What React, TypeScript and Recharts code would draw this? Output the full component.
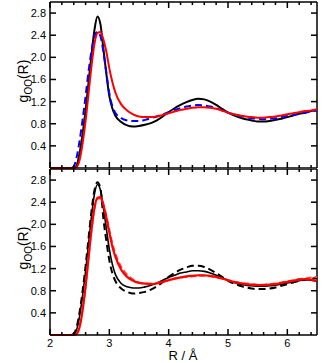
import { LineChart, Line, XAxis, YAxis, ReferenceLine } from 'recharts';

const rGrid = [
  2.0, 2.3, 2.35, 2.4, 2.45, 2.5, 2.55, 2.6, 2.65, 2.7, 2.75, 2.8, 2.85, 2.9, 2.95, 3.0, 3.05, 3.1,
  3.2, 3.3, 3.4, 3.5, 3.6, 3.7, 3.8, 3.9, 4.0, 4.1, 4.2, 4.3, 4.4, 4.5, 4.6, 4.7, 4.8, 4.9,
  5.0, 5.1, 5.2, 5.3, 5.4, 5.5, 5.6, 5.7, 5.8, 5.9, 6.0, 6.1, 6.2, 6.3, 6.4, 6.5,
];

// top panel
const topBlack = [
  0, 0, 0, 0, 0.05, 0.28, 0.62, 1.05, 1.55, 2.05, 2.5, 2.74, 2.6, 2.15, 1.7, 1.3, 1.08, 0.95,
  0.83, 0.77, 0.75, 0.76, 0.78, 0.81, 0.86, 0.93, 1.01, 1.08, 1.14, 1.19, 1.23, 1.25, 1.24, 1.2, 1.14, 1.07,
  1.0, 0.95, 0.91, 0.88, 0.86, 0.84, 0.84, 0.85, 0.87, 0.89, 0.92, 0.95, 0.98, 1.0, 1.03, 1.05,
];
const topBlue = [
  0, 0, 0, 0.03, 0.2, 0.5, 0.88, 1.3, 1.75, 2.12, 2.38, 2.46, 2.38, 2.1, 1.72, 1.35, 1.12, 1.0,
  0.9, 0.86, 0.85, 0.85, 0.87, 0.9, 0.93, 0.97, 1.01, 1.05, 1.08, 1.11, 1.13, 1.14, 1.13, 1.11, 1.08, 1.04,
  1.0, 0.97, 0.94, 0.92, 0.9, 0.89, 0.88, 0.89, 0.9, 0.92, 0.94, 0.96, 0.98, 1.0, 1.02, 1.04,
];
const topRed = [
  0, 0, 0, 0, 0.02, 0.15, 0.45, 0.85, 1.35, 1.85, 2.25, 2.44, 2.46, 2.32, 2.1, 1.8, 1.56, 1.37,
  1.15, 1.04, 0.97, 0.93, 0.92, 0.92, 0.93, 0.96, 0.99, 1.02, 1.05, 1.07, 1.09, 1.1, 1.1, 1.09, 1.07, 1.04,
  1.0, 0.97, 0.95, 0.93, 0.92, 0.91, 0.91, 0.92, 0.93, 0.95, 0.97, 0.99, 1.01, 1.03, 1.04, 1.06,
];

// bottom panel
const botBlackDash = [
  0, 0, 0, 0.02, 0.15, 0.42, 0.8, 1.25, 1.75, 2.25, 2.62, 2.76, 2.65, 2.1, 1.7, 1.35, 1.12, 0.98,
  0.84, 0.78, 0.75, 0.76, 0.78, 0.82, 0.88, 0.96, 1.05, 1.12, 1.18, 1.22, 1.25, 1.25, 1.23, 1.18, 1.12, 1.05,
  0.98, 0.93, 0.89, 0.86, 0.84, 0.83, 0.83, 0.84, 0.86, 0.89, 0.92, 0.95, 0.98, 1.0, 1.02, 1.03,
];
const botBlack = [
  0, 0, 0, 0.01, 0.1, 0.35, 0.72, 1.15, 1.65, 2.15, 2.55, 2.72, 2.62, 2.3, 1.92, 1.55, 1.28, 1.1,
  0.93, 0.87, 0.85, 0.85, 0.87, 0.9, 0.94, 0.99, 1.04, 1.08, 1.12, 1.14, 1.16, 1.16, 1.15, 1.12, 1.08, 1.03,
  0.99, 0.95, 0.92, 0.9, 0.89, 0.88, 0.88, 0.89, 0.9, 0.92, 0.94, 0.96, 0.98, 1.0, 0.99, 0.97,
];
const botRed = [
  0, 0, 0, 0, 0.02, 0.15, 0.45, 0.88, 1.4, 1.9, 2.3, 2.48, 2.49, 2.35, 2.12, 1.85, 1.6, 1.42,
  1.18, 1.05, 0.98, 0.94, 0.93, 0.92, 0.93, 0.96, 0.99, 1.02, 1.04, 1.06, 1.07, 1.08, 1.08, 1.07, 1.05, 1.02,
  0.99, 0.96, 0.94, 0.92, 0.91, 0.9, 0.9, 0.91, 0.92, 0.94, 0.96, 0.98, 1.0, 1.01, 1.0, 0.98,
];
const botRedDash = [
  0, 0, 0, 0, 0.03, 0.17, 0.48, 0.9, 1.42, 1.92, 2.3, 2.46, 2.47, 2.36, 2.15, 1.9, 1.66, 1.48,
  1.23, 1.09, 1.0, 0.95, 0.93, 0.93, 0.94, 0.96, 0.99, 1.02, 1.04, 1.05, 1.06, 1.07, 1.07, 1.06, 1.04, 1.02,
  0.99, 0.96, 0.94, 0.93, 0.92, 0.91, 0.91, 0.92, 0.93, 0.95, 0.97, 0.99, 1.01, 1.02, 1.04, 1.05,
];

// x ticks every 0.2, labelled at whole numbers
const xTicks = [
  2, 2.2, 2.4, 2.6, 2.8, 3, 3.2, 3.4, 3.6, 3.8, 4, 4.2, 4.4, 4.6, 4.8,
  5, 5.2, 5.4, 5.6, 5.8, 6, 6.2, 6.4,
];
const yTicks = [0.4, 0.8, 1.2, 1.6, 2.0, 2.4, 2.8];

const topData = rGrid.map((r, i) => ({ r, black: topBlack[i], blue: topBlue[i], red: topRed[i] }));
const botData = rGrid.map((r, i) => ({
  r, blackDash: botBlackDash[i], black: botBlack[i], red: botRed[i], redDash: botRedDash[i],
}));

const FONT = '"Liberation Sans", Arial, Helvetica, sans-serif';
const PLOT_LEFT = 50;
const PLOT_RIGHT = 317;

function YLabel(props: any) {
  const vb = props.viewBox || {};
  const cy = vb.y + vb.height / 2 - 4;
  const x = 28;
  return (
    <text x={x} y={cy} transform={`rotate(-90, ${x}, ${cy})`} textAnchor="middle"
      fontSize={14} fontFamily={FONT} fill="#000">
      g<tspan fontSize={10} dy={4}>OO</tspan><tspan dy={-4}>(R)</tspan>
    </text>
  );
}

function XLabel() {
  return (
    <text x={183} y={191} textAnchor="middle" fontSize={13} fontFamily={FONT} fill="#000">
      R / Å
    </text>
  );
}

// inward ticks on left and right edges, label on the left
function YTick(props: any) {
  const y = props.payload?.coordinate ?? props.y;
  return (
    <g>
      <line x1={PLOT_LEFT} x2={PLOT_LEFT + 6} y1={y} y2={y} stroke="#000" strokeWidth={1.5} />
      <line x1={PLOT_RIGHT} x2={PLOT_RIGHT - 6} y1={y} y2={y} stroke="#000" strokeWidth={1.5} />
      <text x={46} y={y} dy={4} textAnchor="end" fontSize={11} fontFamily={FONT} fill="#000">
        {Number(props.payload.value).toFixed(1)}
      </text>
    </g>
  );
}

// inward ticks on top and bottom edges, labels at whole numbers on the lower panel
function XTick(props: any) {
  const { top, bottom, labels } = props;
  const v = Number(props.payload.value);
  const x = props.payload?.coordinate ?? props.x;
  const major = Math.abs(v - Math.round(v)) < 1e-6;
  const len = major ? 6 : 3;
  return (
    <g>
      <line x1={x} x2={x} y1={bottom} y2={bottom - len} stroke="#000" strokeWidth={1.5} />
      <line x1={x} x2={x} y1={top} y2={top + len} stroke="#000" strokeWidth={1.5} />
      {labels && major ? (
        <text x={x} y={bottom + 12} textAnchor="middle" fontSize={11} fontFamily={FONT} fill="#000">
          {v}
        </text>
      ) : null}
    </g>
  );
}

export default function App() {
  return (
    <div style={{ position: 'absolute', left: 0, top: 0, width: 334, height: 363, background: '#fff', fontFamily: FONT }}>
      <div style={{ position: 'absolute', left: 0, top: 0 }}>
        <LineChart width={334} height={170} data={topData} margin={{ top: 2, right: 17, bottom: 0, left: 0 }}>
          <XAxis type="number" dataKey="r" domain={[2, 6.5]} height={2} ticks={xTicks} interval={0}
            stroke="#000" strokeWidth={1.5} tickLine={{ stroke: 'none' }}
            tick={(p: any) => <XTick {...p} top={2} bottom={168} labels={false} />} />
          <YAxis type="number" domain={[0, 3]} width={50} ticks={yTicks} interval={0}
            stroke="#000" strokeWidth={1.5} tickLine={{ stroke: 'none' }}
            tick={(p: any) => <YTick {...p} />} label={<YLabel />} />
          <ReferenceLine y={3} stroke="#000" strokeWidth={1.5} />
          <ReferenceLine x={6.5} stroke="#000" strokeWidth={1.5} />
          <Line type="monotone" dataKey="black" stroke="#000" strokeWidth={2}
            dot={false} isAnimationActive={false} />
          <Line type="monotone" dataKey="blue" stroke="#0000ff" strokeWidth={2}
            strokeDasharray="7 4" dot={false} isAnimationActive={false} />
          <Line type="monotone" dataKey="red" stroke="#ff0000" strokeWidth={2}
            dot={false} isAnimationActive={false} />
        </LineChart>
      </div>
      <div style={{ position: 'absolute', left: 0, top: 169 }}>
        <LineChart width={334} height={194} data={botData} margin={{ top: 0, right: 17, bottom: 0, left: 0 }}>
          <XAxis type="number" dataKey="r" domain={[2, 6.5]} height={28} ticks={xTicks} interval={0}
            stroke="#000" strokeWidth={1.5} tickLine={{ stroke: 'none' }}
            tick={(p: any) => <XTick {...p} top={0} bottom={166} labels />} label={<XLabel />} />
          <YAxis type="number" domain={[0, 3]} width={50} ticks={yTicks} interval={0}
            stroke="#000" strokeWidth={1.5} tickLine={{ stroke: 'none' }}
            tick={(p: any) => <YTick {...p} />} label={<YLabel />} />
          <ReferenceLine y={3} stroke="#000" strokeWidth={1.5} />
          <ReferenceLine x={6.5} stroke="#000" strokeWidth={1.5} />
          <Line type="monotone" dataKey="blackDash" stroke="#000" strokeWidth={2}
            strokeDasharray="7 4" dot={false} isAnimationActive={false} />
          <Line type="monotone" dataKey="black" stroke="#000" strokeWidth={1.6}
            dot={false} isAnimationActive={false} />
          <Line type="monotone" dataKey="redDash" stroke="#ff4040" strokeWidth={2}
            strokeDasharray="6 3" dot={false} isAnimationActive={false} />
          <Line type="monotone" dataKey="red" stroke="#ff0000" strokeWidth={2.2}
            dot={false} isAnimationActive={false} />
        </LineChart>
      </div>
    </div>
  );
}
